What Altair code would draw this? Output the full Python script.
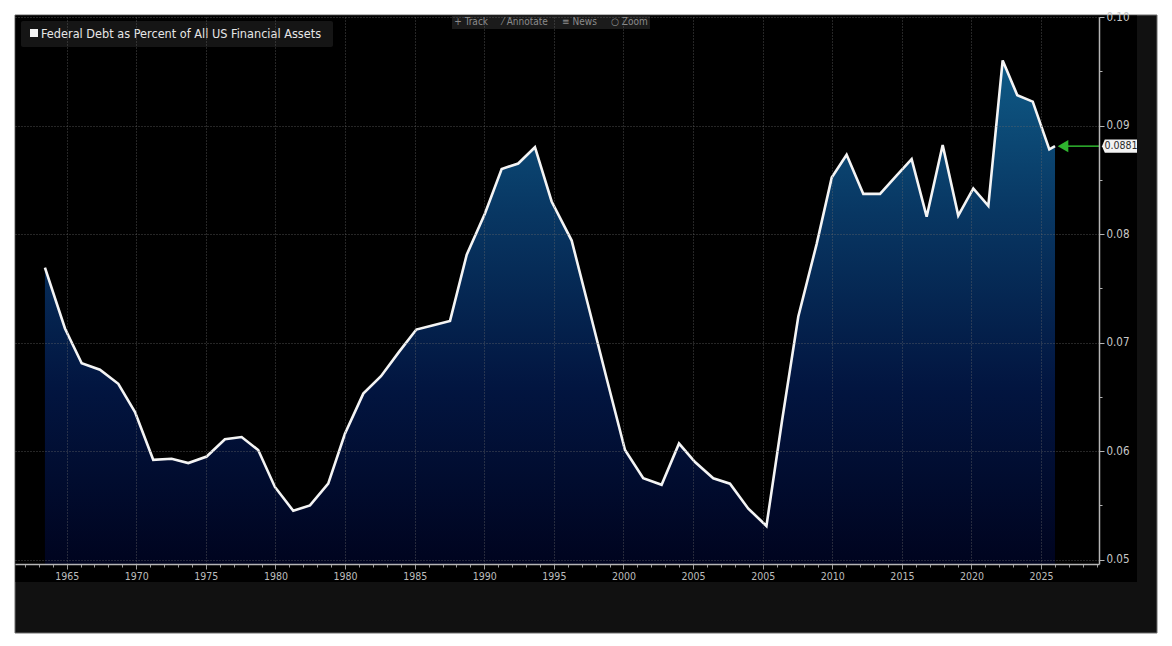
import altair as alt
import pandas as pd

# ---- data ----
t_vals = [1963.44, 1964.88, 1966.08, 1967.39, 1968.71, 1969.91, 1971.22, 1972.54, 1973.74, 1975.06,
          1976.37, 1977.57, 1978.76, 1979.96, 1981.28, 1982.48, 1983.79, 1984.99, 1986.31, 1987.58,
          1988.85, 1990.12, 1991.34, 1992.54, 1993.74, 1995.05, 1996.25, 1997.44, 1998.64, 1999.84,
          2001.28, 2002.55, 2003.81, 2005.11, 2006.42, 2007.74, 2008.99, 2010.14, 2011.45, 2012.65,
          2013.97, 2015.27, 2016.39, 2017.56, 2018.88, 2019.96, 2021.03, 2022.23, 2023.43, 2024.63,
          2025.70, 2026.78, 2027.93, 2029.05, 2030.13, 2031.21, 2032.24, 2033.29, 2034.40, 2035.59,
          2036.00]
v_vals = [0.0769, 0.0713, 0.0681, 0.0675, 0.0662, 0.0636, 0.0592, 0.0593, 0.0589, 0.0595,
          0.0611, 0.0613, 0.0601, 0.0567, 0.0545, 0.0550, 0.0570, 0.0616, 0.0653, 0.0669,
          0.0691, 0.0712, 0.0716, 0.0720, 0.0781, 0.0819, 0.0860, 0.0865, 0.0880, 0.0830,
          0.0794, 0.0730, 0.0666, 0.0601, 0.0575, 0.0569, 0.0607, 0.0590, 0.0575, 0.0570,
          0.0547, 0.0531, 0.0628, 0.0724, 0.0791, 0.0852, 0.0873, 0.0837, 0.0837, 0.0854,
          0.0869, 0.0816, 0.0882, 0.0817, 0.0842, 0.0826, 0.0960, 0.0928, 0.0922, 0.0878,
          0.0881]
x_tick_labels = ["1965", "1970", "1975", "1980", "1980", "1985", "1990", "1995",
                 "2000", "2005", "2005", "2010", "2015", "2020", "2025"]
y_tick_values = [0.05, 0.055, 0.06, 0.065, 0.07, 0.075, 0.08, 0.085, 0.09, 0.095, 0.1]
y_floor = 0.0496
series_name = "Federal Debt as Percent of All US Financial Assets"
NB = "\u00a0"
toolbar_text = (f"+{NB}Track{NB*5}\u2044{NB}Annotate{NB*5}\u2261{NB}News{NB*5}\u25cb{NB}Zoom")

W, H = 1084, 547
FONT = "Liberation Sans Narrow, DejaVu Sans Condensed, Roboto, sans-serif"

df = pd.DataFrame({"t": t_vals, "v": v_vals})
last = df.tail(1)
one = pd.DataFrame({"k": [0]})

xscale = alt.Scale(domain=[1961.29, 2039.16], nice=False, zero=False)
yscale = alt.Scale(domain=[y_floor, 0.10], nice=False, zero=False)

labels_js = "[" + ",".join("'%s'" % s for s in x_tick_labels) + "]"
major_x = "(datum.value - 1965) % 5 == 0"
major_y = "abs(datum.value * 100 - round(datum.value * 100)) < 0.01"

xaxis = alt.Axis(
    values=list(range(1962, 2040)),
    labelExpr=f"{major_x} ? {labels_js}[(datum.value - 1965) / 5] : ''",
    title="",
    zindex=1,
    labelOverlap=False,
    labelFlush=False,
    labelFont=FONT,
    labelFontSize=10.5,
    labelColor="#bdbdbd",
    labelPadding=2,
    domainColor="#b5b5b5",
    domainWidth=1.5,
    tickColor="#9a9a9a",
    tickSize={"condition": {"test": major_x, "value": 5}, "value": 3},
    grid=True,
    gridColor="#6a6a6a",
    gridDash=[1, 2],
    gridWidth=0.8,
    gridOpacity={"condition": {"test": major_x, "value": 0.9}, "value": 0},
)

yaxis = alt.Axis(
    orient="right",
    values=y_tick_values,
    labelExpr=f"{major_y} ? format(datum.value, '.2f') : ''",
    title="",
    zindex=1,
    labelOverlap=False,
    labelFlush=False,
    labelFont=FONT,
    labelFontSize=11.5,
    labelColor="#c8c8c8",
    labelPadding=2,
    domainColor="#b5b5b5",
    domainWidth=1.5,
    tickColor="#b5b5b5",
    tickSize={"condition": {"test": major_y, "value": 5}, "value": 3},
    grid=True,
    gridColor="#6a6a6a",
    gridDash=[1, 2],
    gridWidth=0.8,
    gridOpacity={"condition": {"test": major_y, "value": 0.9}, "value": 0},
)

X = alt.X("t:Q", scale=xscale, axis=xaxis)
Y = alt.Y("v:Q", scale=yscale, axis=yaxis)

# ---- frame / panels ----
bg_gray = alt.Chart(one).mark_rect(color="#111111", stroke="#6d6d6d", strokeWidth=1).encode(
    x=alt.value(0), x2=alt.value(1142), y=alt.value(-2), y2=alt.value(616))
bg_black = alt.Chart(one).mark_rect(color="#000000").encode(
    x=alt.value(0.5), x2=alt.value(1122), y=alt.value(-1.5), y2=alt.value(565))

legend_box = alt.Chart(one).mark_rect(color="#151515", cornerRadius=2).encode(
    x=alt.value(6), x2=alt.value(318), y=alt.value(4), y2=alt.value(30))
legend_sq = alt.Chart(one).mark_rect(color="#f2f2f2").encode(
    x=alt.value(15), x2=alt.value(23), y=alt.value(12), y2=alt.value(20))
legend_txt = alt.Chart(one).mark_text(
    text=series_name, font=FONT, fontSize=12.6, color="#e6e6e6", align="left", baseline="middle"
).encode(x=alt.value(26), y=alt.value(17))

tool_box = alt.Chart(one).mark_rect(color="#1b1b1b").encode(
    x=alt.value(437), x2=alt.value(635), y=alt.value(-1), y2=alt.value(12))
tool_txt = alt.Chart(one).mark_text(
    text=toolbar_text, font=FONT, fontSize=10, color="#8c8c8c", align="center", baseline="middle"
).encode(x=alt.value(536), y=alt.value(5))

# ---- series ----
grad = alt.Gradient(
    gradient="linear",
    stops=[alt.GradientStop(color="#00041f", offset=0),
           alt.GradientStop(color="#021540", offset=0.35),
           alt.GradientStop(color="#083763", offset=0.7),
           alt.GradientStop(color="#0f5a86", offset=1)],
    x1=1, x2=1, y1=1, y2=0,
)
area = alt.Chart(df).mark_area(color=grad, opacity=1).encode(x=X, y=Y, y2=alt.datum(y_floor))
line = alt.Chart(df).mark_line(color="#f4f4f4", strokeWidth=2.6).encode(x=X, y=Y)

# ---- last value marker ----
arrow_rule = alt.Chart(last).mark_rule(color="#2fb52f", strokeWidth=1.5).encode(
    x=alt.value(1052), x2=alt.value(W), y=Y)
arrow = alt.Chart(last).mark_point(shape="triangle-left", filled=True, color="#2fb52f",
                                   size=150, opacity=1).encode(x=alt.value(1048), y=Y)
label_box = alt.Chart(last).mark_point(
    shape="M-1,0 L-0.84,-0.38 L1,-0.38 L1,0.38 L-0.84,0.38 Z",
    filled=True, color="#f2f2f2", size=1225, opacity=1
).encode(x=alt.value(1104.5), y=Y)
label_txt = alt.Chart(last).mark_text(
    font=FONT, fontSize=10.5, color="#2a2a2a", align="center", baseline="middle"
).encode(x=alt.value(1106), y=Y, text=alt.Text("v:Q", format=".4f"))

chart = alt.layer(
    bg_gray, bg_black, legend_box, legend_sq, legend_txt, tool_box, tool_txt,
    area, line, arrow_rule, arrow, label_box, label_txt
).properties(
    width=W, height=H,
    padding={"left": 7, "top": 9, "right": 59, "bottom": 70},
    autosize=alt.AutoSizeParams(type="none"),
    background="white",
).configure_view(stroke="transparent")

chart.save("out.html", embed_options={"renderer": "svg", "actions": False})
